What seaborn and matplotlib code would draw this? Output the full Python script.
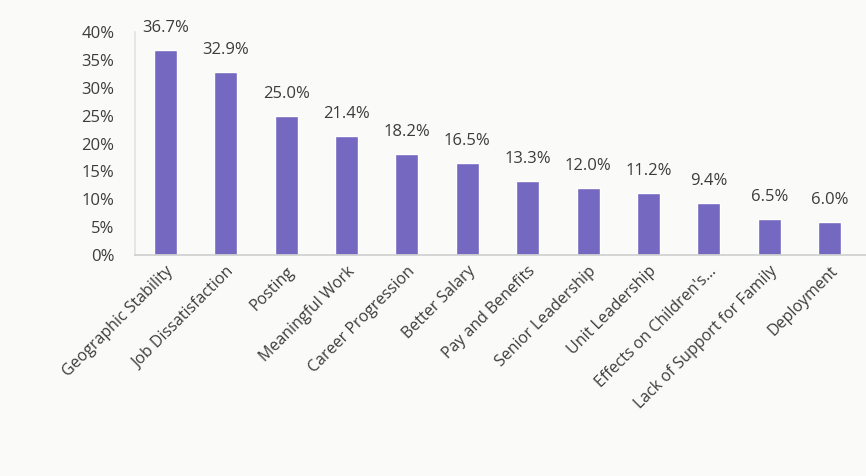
import matplotlib
matplotlib.use("Agg")
import matplotlib.pyplot as plt
import seaborn as sns
import pandas as pd

reasons = [
    "Geographic Stability", "Job Dissatisfaction", "Posting", "Meaningful Work",
    "Career Progression", "Better Salary", "Pay and Benefits", "Senior Leadership",
    "Unit Leadership", "Effects on Children's...", "Lack of Support for Family",
    "Deployment",
]
shares = [36.7, 32.9, 25.0, 21.4, 18.2, 16.5, 13.3, 12.0, 11.2, 9.4, 6.5, 6.0]
y_ticks = [0, 5, 10, 15, 20, 25, 30, 35, 40]

df = pd.DataFrame({"reason": reasons, "share": shares})

sns.set_theme(style="white")
plt.rcParams["font.family"] = ["Open Sans", "DejaVu Sans"]

text_color = "#3c3c3c"
bar_color = "#7468c0"

fig = plt.figure(figsize=(8.66, 4.76), dpi=100, facecolor="#fafaf8")
ax = fig.add_axes([0.156, 0.464, 0.844, 0.469])
ax.set_facecolor("#fafaf8")

sns.barplot(data=df, x="reason", y="share", color=bar_color, width=0.38,
            saturation=1, ax=ax)

for p, v in zip(ax.patches, shares):
    ax.annotate(f"{v:.1f}%", (p.get_x() + p.get_width() / 2, v),
                xytext=(0, 10), textcoords="offset points",
                ha="center", va="bottom", fontsize=12, color=text_color,
                annotation_clip=False)

ax.set_ylim(0, 40)
ax.set_xlim(-0.5, 11.6)
ax.set_yticks(y_ticks)
ax.set_yticklabels([f"{t}%" for t in y_ticks], fontsize=12, color=text_color)
ax.set_xticks(range(len(reasons)))
ax.set_xticklabels(reasons, rotation=45, ha="right", rotation_mode="anchor",
                   fontsize=11.5, color=text_color)
ax.tick_params(axis="y", length=0, pad=15)
ax.tick_params(axis="x", length=0, pad=6)
ax.set_xlabel("")
ax.set_ylabel("")

for side in ["top", "right"]:
    ax.spines[side].set_visible(False)
ax.spines["left"].set_color("#e4e4e4")
ax.spines["bottom"].set_color("#d0d0d0")

fig.savefig("out.png", dpi=100, facecolor=fig.get_facecolor())
